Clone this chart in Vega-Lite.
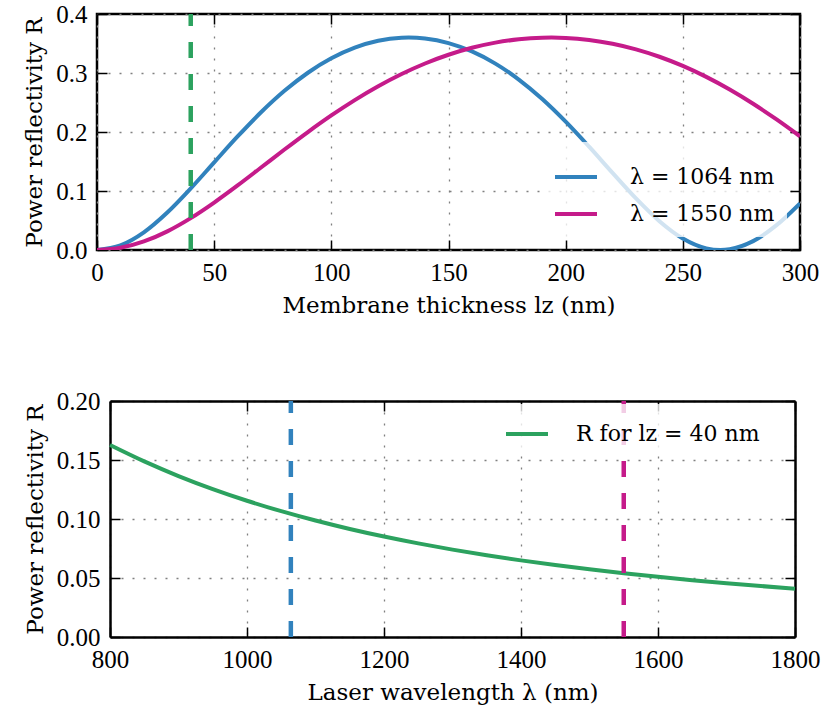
{
  "$schema": "https://vega.github.io/schema/vega-lite/v6.json",
  "background": "white",
  "padding": {"left": 22, "top": 0, "right": 5, "bottom": 5},
  "columns": 1,
  "spacing": 70,
  "resolve": {"scale": {"color": "independent", "stroke": "independent"}, "legend": {"color": "independent"}},
  "concat": [
    {
      "width": 703,
      "height": 236,
      "resolve": {"axis": {"x": "independent", "y": "independent"}},
      "layer": [
        {
          "data": {"values": [
            {"l": 0, "R": 0, "series": "λ = 1064 nm"},
            {"l": 10, "R": 0.00775, "series": "λ = 1064 nm"},
            {"l": 20, "R": 0.02988, "series": "λ = 1064 nm"},
            {"l": 30, "R": 0.06342, "series": "λ = 1064 nm"},
            {"l": 40, "R": 0.10432, "series": "λ = 1064 nm"},
            {"l": 50, "R": 0.14849, "series": "λ = 1064 nm"},
            {"l": 60, "R": 0.1924, "series": "λ = 1064 nm"},
            {"l": 70, "R": 0.23341, "series": "λ = 1064 nm"},
            {"l": 80, "R": 0.26977, "series": "λ = 1064 nm"},
            {"l": 90, "R": 0.30045, "series": "λ = 1064 nm"},
            {"l": 100, "R": 0.32492, "series": "λ = 1064 nm"},
            {"l": 110, "R": 0.34297, "series": "λ = 1064 nm"},
            {"l": 120, "R": 0.35457, "series": "λ = 1064 nm"},
            {"l": 130, "R": 0.35971, "series": "λ = 1064 nm"},
            {"l": 133, "R": 0.36, "series": "λ = 1064 nm"},
            {"l": 140, "R": 0.35842, "series": "λ = 1064 nm"},
            {"l": 150, "R": 0.3507, "series": "λ = 1064 nm"},
            {"l": 160, "R": 0.33652, "series": "λ = 1064 nm"},
            {"l": 170, "R": 0.31589, "series": "λ = 1064 nm"},
            {"l": 180, "R": 0.2889, "series": "λ = 1064 nm"},
            {"l": 190, "R": 0.25586, "series": "λ = 1064 nm"},
            {"l": 200, "R": 0.21748, "series": "λ = 1064 nm"},
            {"l": 210, "R": 0.17506, "series": "λ = 1064 nm"},
            {"l": 220, "R": 0.13068, "series": "λ = 1064 nm"},
            {"l": 230, "R": 0.08735, "series": "λ = 1064 nm"},
            {"l": 240, "R": 0.04888, "series": "λ = 1064 nm"},
            {"l": 250, "R": 0.01946, "series": "λ = 1064 nm"},
            {"l": 260, "R": 0.00281, "series": "λ = 1064 nm"},
            {"l": 266, "R": 0, "series": "λ = 1064 nm"},
            {"l": 270, "R": 0.00125, "series": "λ = 1064 nm"},
            {"l": 280, "R": 0.01501, "series": "λ = 1064 nm"},
            {"l": 290, "R": 0.04214, "series": "λ = 1064 nm"},
            {"l": 300, "R": 0.07913, "series": "λ = 1064 nm"},
            {"l": 0, "R": 0, "series": "λ = 1550 nm"},
            {"l": 10, "R": 0.00368, "series": "λ = 1550 nm"},
            {"l": 20, "R": 0.01445, "series": "λ = 1550 nm"},
            {"l": 30, "R": 0.03159, "series": "λ = 1550 nm"},
            {"l": 40, "R": 0.05403, "series": "λ = 1550 nm"},
            {"l": 50, "R": 0.08044, "series": "λ = 1550 nm"},
            {"l": 60, "R": 0.10947, "series": "λ = 1550 nm"},
            {"l": 70, "R": 0.13981, "series": "λ = 1550 nm"},
            {"l": 80, "R": 0.1703, "series": "λ = 1550 nm"},
            {"l": 90, "R": 0.19998, "series": "λ = 1550 nm"},
            {"l": 100, "R": 0.22809, "series": "λ = 1550 nm"},
            {"l": 110, "R": 0.2541, "series": "λ = 1550 nm"},
            {"l": 120, "R": 0.27759, "series": "λ = 1550 nm"},
            {"l": 130, "R": 0.29832, "series": "λ = 1550 nm"},
            {"l": 140, "R": 0.31614, "series": "λ = 1550 nm"},
            {"l": 150, "R": 0.33095, "series": "λ = 1550 nm"},
            {"l": 160, "R": 0.34272, "series": "λ = 1550 nm"},
            {"l": 170, "R": 0.35145, "series": "λ = 1550 nm"},
            {"l": 180, "R": 0.35714, "series": "λ = 1550 nm"},
            {"l": 190, "R": 0.35979, "series": "λ = 1550 nm"},
            {"l": 194, "R": 0.36, "series": "λ = 1550 nm"},
            {"l": 200, "R": 0.35941, "series": "λ = 1550 nm"},
            {"l": 210, "R": 0.356, "series": "λ = 1550 nm"},
            {"l": 220, "R": 0.34955, "series": "λ = 1550 nm"},
            {"l": 230, "R": 0.34006, "series": "λ = 1550 nm"},
            {"l": 240, "R": 0.32753, "series": "λ = 1550 nm"},
            {"l": 250, "R": 0.31196, "series": "λ = 1550 nm"},
            {"l": 260, "R": 0.2934, "series": "λ = 1550 nm"},
            {"l": 270, "R": 0.27197, "series": "λ = 1550 nm"},
            {"l": 280, "R": 0.24782, "series": "λ = 1550 nm"},
            {"l": 290, "R": 0.22124, "series": "λ = 1550 nm"},
            {"l": 300, "R": 0.19268, "series": "λ = 1550 nm"}
          ]},
          "mark": {"type": "line", "strokeWidth": 4, "clip": true, "interpolate": "monotone"},
          "encoding": {
            "x": {"field": "l", "type": "quantitative", "scale": {"domain": [0, 300], "nice": false},
                  "axis": {"title": "Membrane thickness lz (nm)", "values": [0, 50, 100, 150, 200, 250, 300]}},
            "y": {"field": "R", "type": "quantitative", "scale": {"domain": [0, 0.4], "nice": false},
                  "axis": {"title": "Power reflectivity R", "values": [0, 0.1, 0.2, 0.3, 0.4], "format": ".1f"}},
            "color": {"field": "series", "type": "nominal",
                      "scale": {"domain": ["λ = 1064 nm", "λ = 1550 nm"], "range": ["#3182bd", "#c51b8a"]},
                      "legend": {"orient": "bottom-right", "offset": 13, "padding": 12, "labelOffset": 31, "rowPadding": 3}}
          }
        },
        {
          "data": {"values": [{"l": 40}]},
          "mark": {"type": "rule", "color": "#2ca25f", "strokeWidth": 4.5, "strokeDash": [16, 16]},
          "encoding": {
            "x": {"field": "l", "type": "quantitative",
                  "axis": {"orient": "top", "labels": false, "title": null, "grid": false, "values": [0, 50, 100, 150, 200, 250, 300]}},
            "y": {"datum": 0, "type": "quantitative",
                  "axis": {"orient": "right", "labels": false, "title": null, "grid": false, "values": [0, 0.1, 0.2, 0.3, 0.4]}},
            "y2": {"datum": 0.4}
          }
        }
      ]
    },
    {
      "width": 698,
      "height": 236,
      "view": {"stroke": null},
      "resolve": {"axis": {"x": "independent", "y": "independent"}},
      "layer": [
        {
          "data": {"values": [
            {"wl": 800, "R": 0.16272, "series": "R for lz = 40 nm"},
            {"wl": 850, "R": 0.14881, "series": "R for lz = 40 nm"},
            {"wl": 900, "R": 0.13641, "series": "R for lz = 40 nm"},
            {"wl": 950, "R": 0.12535, "series": "R for lz = 40 nm"},
            {"wl": 1000, "R": 0.11547, "series": "R for lz = 40 nm"},
            {"wl": 1050, "R": 0.10663, "series": "R for lz = 40 nm"},
            {"wl": 1100, "R": 0.0987, "series": "R for lz = 40 nm"},
            {"wl": 1150, "R": 0.09156, "series": "R for lz = 40 nm"},
            {"wl": 1200, "R": 0.08514, "series": "R for lz = 40 nm"},
            {"wl": 1250, "R": 0.07933, "series": "R for lz = 40 nm"},
            {"wl": 1300, "R": 0.07406, "series": "R for lz = 40 nm"},
            {"wl": 1350, "R": 0.06929, "series": "R for lz = 40 nm"},
            {"wl": 1400, "R": 0.06494, "series": "R for lz = 40 nm"},
            {"wl": 1450, "R": 0.06097, "series": "R for lz = 40 nm"},
            {"wl": 1500, "R": 0.05735, "series": "R for lz = 40 nm"},
            {"wl": 1550, "R": 0.05403, "series": "R for lz = 40 nm"},
            {"wl": 1600, "R": 0.05098, "series": "R for lz = 40 nm"},
            {"wl": 1650, "R": 0.04817, "series": "R for lz = 40 nm"},
            {"wl": 1700, "R": 0.04558, "series": "R for lz = 40 nm"},
            {"wl": 1750, "R": 0.0432, "series": "R for lz = 40 nm"},
            {"wl": 1800, "R": 0.04099, "series": "R for lz = 40 nm"}
          ]},
          "mark": {"type": "line", "strokeWidth": 4, "clip": false, "interpolate": "monotone"},
          "encoding": {
            "x": {"field": "wl", "type": "quantitative", "scale": {"domain": [800, 1800], "nice": false, "range": [13, 698]},
                  "axis": {"title": "Laser wavelength λ (nm)", "values": [800, 1000, 1200, 1400, 1600, 1800], "format": "d",
                           "domain": true, "domainColor": "#000", "domainWidth": 2.5}},
            "y": {"field": "R", "type": "quantitative", "scale": {"domain": [0, 0.2], "nice": false},
                  "axis": {"title": "Power reflectivity R", "values": [0, 0.05, 0.1, 0.15, 0.2], "format": ".2f", "offset": -13,
                           "domain": true, "domainColor": "#000", "domainWidth": 2.5}},
            "color": {"field": "series", "type": "nominal",
                      "scale": {"domain": ["R for lz = 40 nm"], "range": ["#2ca25f"]},
                      "legend": {"orient": "none", "legendX": 400, "legendY": 3, "padding": 7}}
          }
        },
        {
          "data": {"values": [{"wl": 1064, "c": "a"}, {"wl": 1550, "c": "b"}]},
          "mark": {"type": "rule", "strokeWidth": 4.5, "strokeDash": [16, 16]},
          "encoding": {
            "x": {"field": "wl", "type": "quantitative",
                  "axis": {"orient": "top", "labels": false, "title": null, "grid": false, "values": [800, 1000, 1200, 1400, 1600, 1800],
                           "domain": true, "domainColor": "#000", "domainWidth": 2.5}},
            "y": {"datum": 0, "type": "quantitative",
                  "axis": {"orient": "right", "labels": false, "title": null, "grid": false, "values": [0, 0.05, 0.1, 0.15, 0.2],
                           "domain": true, "domainColor": "#000", "domainWidth": 2.5}},
            "y2": {"datum": 0.2},
            "stroke": {"field": "c", "type": "nominal", "scale": {"domain": ["a", "b"], "range": ["#3182bd", "#c51b8a"]}, "legend": null}
          }
        }
      ]
    }
  ],
  "config": {
    "font": "Liberation Serif",
    "view": {"stroke": "#000", "strokeWidth": 2.5},
    "axis": {
      "labelFont": "Liberation Serif", "labelFontSize": 25, "labelColor": "#000", "labelFlush": false,
      "titleFont": "DejaVu Serif", "titleFontSize": 23, "titleFontWeight": "normal", "titleColor": "#000",
      "domain": false, "tickColor": "#000", "tickSize": -10, "tickWidth": 1.5,
      "gridColor": "#808080", "gridDash": [2, 9], "gridWidth": 1.3, "labelPadding": 20, "titlePadding": 9
    },
    "legend": {
      "fillColor": "rgba(255,255,255,0.78)", "strokeColor": null,
      "symbolType": "stroke", "symbolStrokeWidth": 4, "symbolSize": 1764,
      "labelFont": "DejaVu Serif", "labelFontSize": 22, "labelColor": "#000", "labelOffset": 26, "rowPadding": -3,
      "title": null, "labelLimit": 400
    }
  }
}
